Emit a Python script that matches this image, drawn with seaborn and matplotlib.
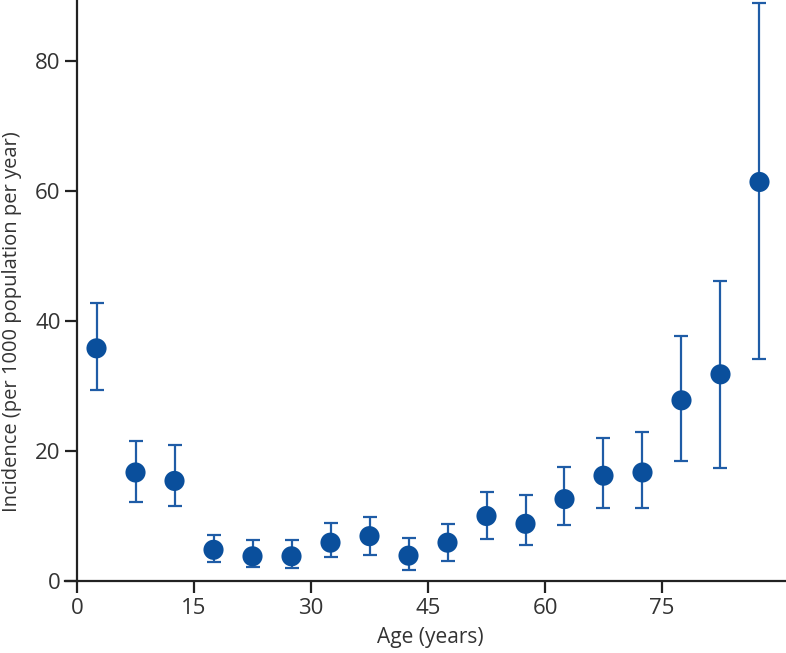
import matplotlib
matplotlib.use("Agg")
import matplotlib.pyplot as plt
import seaborn as sns
import pandas as pd
import numpy as np

# Data (age-group midpoints, incidence and 95% CI)
age = [2.5, 7.5, 12.5, 17.5, 22.5, 27.5, 32.5, 37.5, 42.5, 47.5,
       52.5, 57.5, 62.5, 67.5, 72.5, 77.5, 82.5, 87.5]
incidence = [35.8, 16.7, 15.4, 4.8, 3.8, 3.8, 5.9, 6.9, 3.9, 5.9,
             10.0, 8.8, 12.6, 16.2, 16.7, 27.8, 31.8, 61.4]
lower = [29.4, 12.1, 11.5, 3.0, 2.1, 2.0, 3.7, 4.0, 1.7, 3.1,
         6.5, 5.6, 8.6, 11.2, 11.2, 18.5, 17.4, 34.1]
upper = [42.8, 21.5, 20.9, 7.1, 6.3, 6.3, 8.9, 9.8, 6.6, 8.7,
         13.7, 13.2, 17.5, 22.0, 23.0, 37.7, 46.2, 89.0]
xticks = [0, 15, 30, 45, 60, 75]
yticks = [0, 20, 40, 60, 80]

df = pd.DataFrame({"age": age, "inc": incidence, "lo": lower, "hi": upper})

sns.set_theme(style="white")
plt.rcParams["font.family"] = ["Open Sans", "DejaVu Sans"]

W, H = 786, 653
fig = plt.figure(figsize=(W / 100, H / 100), dpi=100)
left_px, right_px, top_px, bottom_px = 65, 785, 0, 581
ax = fig.add_axes([left_px / W, (H - bottom_px) / H,
                   (right_px - left_px) / W, (bottom_px - top_px) / H])

line_col = "#1f5ca6"
dot_col = "#0a4f9c"

yerr = np.vstack([df["inc"] - df["lo"], df["hi"] - df["inc"]])
ax.errorbar(df["age"], df["inc"], yerr=yerr, fmt="none", ecolor=line_col,
            elinewidth=1.6, capsize=5.2, capthick=1.6, zorder=2)
sns.scatterplot(data=df, x="age", y="inc", ax=ax, s=210, color=dot_col,
                edgecolor="none", linewidth=0, zorder=3, legend=False)

ax.set_xlim(-1.54, 90.77)
ax.set_ylim(0, 89.4)
ax.set_xticks(xticks)
ax.set_yticks(yticks)

for s in ["top", "right"]:
    ax.spines[s].set_visible(False)
ax.spines["left"].set_position(("data", 0))
for s in ["left", "bottom"]:
    ax.spines[s].set_color("#222222")
    ax.spines[s].set_linewidth(1.6)

ax.tick_params(axis="both", which="major", direction="out", length=8.6,
               width=1.6, color="#222222", labelsize=16, labelcolor="#333333")
ax.tick_params(axis="y", pad=3.2, left=True)
ax.tick_params(axis="x", pad=3.5, bottom=True)

ax.set_xlabel("")
ax.set_ylabel("")
fig.text(430 / W, 1 - 638 / H, "Age (years)", ha="center", va="center",
         fontsize=15, color="#333333")
fig.text(12 / W, 1 - 322 / H, "Incidence (per 1000 population per year)",
         ha="center", va="center", rotation=90, fontsize=14.5, color="#333333")

fig.savefig("out.png", dpi=100)
